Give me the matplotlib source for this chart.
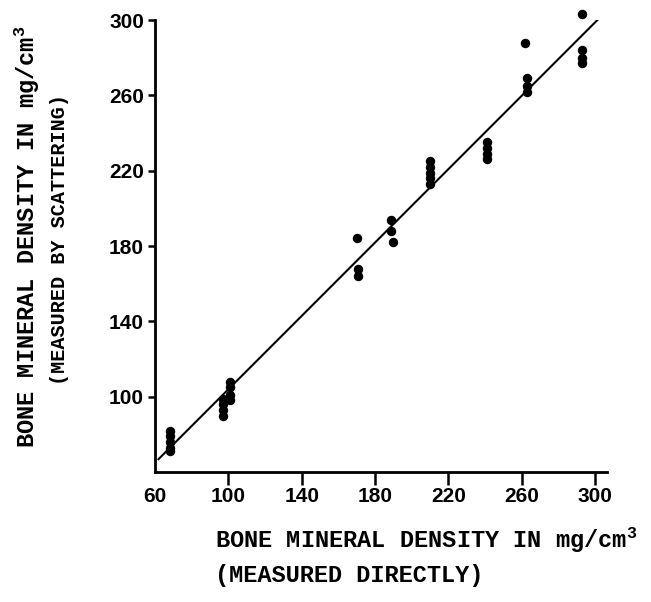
import matplotlib
matplotlib.use("Agg")
import matplotlib.pyplot as plt

# ---- data ----
x_68 = [68, 68, 68, 68, 68]
y_68 = [71, 73, 76, 79, 82]
x_97 = [97, 97, 97, 97, 101, 101, 101, 101]
y_97 = [90, 93, 96, 99, 98, 101, 105, 108]
x_170 = [170, 171, 171]
y_170 = [184, 164, 168]
x_189 = [189, 189, 190]
y_189 = [194, 188, 182]
x_210 = [210, 210, 210, 210, 210]
y_210 = [213, 216, 219, 222, 225]
x_241 = [241, 241, 241, 241]
y_241 = [226, 229, 232, 235]
x_263 = [262, 263, 263, 263]
y_263 = [288, 262, 265, 269]
x_293 = [293, 293, 293, 293]
y_293 = [303, 277, 280, 284]

fit_x = [61.5, 302]
fit_y = [66.4, 300.6]

x_ticks = [60, 100, 140, 180, 220, 260, 300]
y_ticks = [100, 140, 180, 220, 260, 300]

xs = x_68 + x_97 + x_170 + x_189 + x_210 + x_241 + x_263 + x_293
ys = y_68 + y_97 + y_170 + y_189 + y_210 + y_241 + y_263 + y_293

plt.rcParams['mathtext.fontset'] = 'custom'
plt.rcParams['mathtext.rm'] = 'Liberation Mono:bold'
plt.rcParams['mathtext.it'] = 'Liberation Mono:bold'
plt.rcParams['mathtext.bf'] = 'Liberation Mono:bold'

fig = plt.figure(figsize=(6.51, 6.02), dpi=100)
ax = fig.add_axes([155/651, 1 - 472/602, 452/651, 452/602])

ax.plot(fit_x, fit_y, color='black', lw=1.5, solid_capstyle='butt')
ax.plot(xs, ys, 'o', color='black', ms=5.8, mec='black', clip_on=False)

ax.set_xlim(60, 306.6)
ax.set_ylim(60, 300)
ax.set_xticks(x_ticks)
ax.set_yticks(y_ticks)

tick_font = dict(family=['Liberation Sans', 'DejaVu Sans'], weight='bold', size=15)
ax.set_xticklabels([str(t) for t in x_ticks], fontdict=tick_font)
ax.set_yticklabels([str(t) for t in y_ticks], fontdict=tick_font)

for s in ['top', 'right']:
    ax.spines[s].set_visible(False)
for s in ['left', 'bottom']:
    ax.spines[s].set_linewidth(2)
    ax.spines[s].set_color('black')

ax.tick_params(axis='x', direction='out', length=9, width=1.8, pad=2, colors='black')
ax.tick_params(axis='y', direction='out', length=5, width=1.8, pad=3, colors='black')
# no tick mark at the corner (60), only its label
ax.xaxis.get_major_ticks()[0].tick1line.set_visible(False)

lab = dict(family=['Liberation Mono', 'DejaVu Sans Mono'], weight='bold', color='black')

fig.text(215/651, 1 - 548/602, r'BONE MINERAL DENSITY IN mg/cm$^{3}$',
         ha='left', va='baseline', fontsize=17, **lab)
fig.text(215/651, 1 - 582/602, '(MEASURED DIRECTLY)',
         ha='left', va='baseline', fontsize=17, **lab)

fig.text(27/651, 1 - 448/602, r'BONE MINERAL DENSITY IN mg/cm$^{3}$',
         rotation=90, ha='center', va='bottom', fontsize=17, **lab)
fig.text(60/651, 1 - 385/602, '(MEASURED BY SCATTERING)',
         rotation=90, ha='center', va='bottom', fontsize=14.5, **lab)

fig.savefig('out.png', dpi=100, facecolor='white')
